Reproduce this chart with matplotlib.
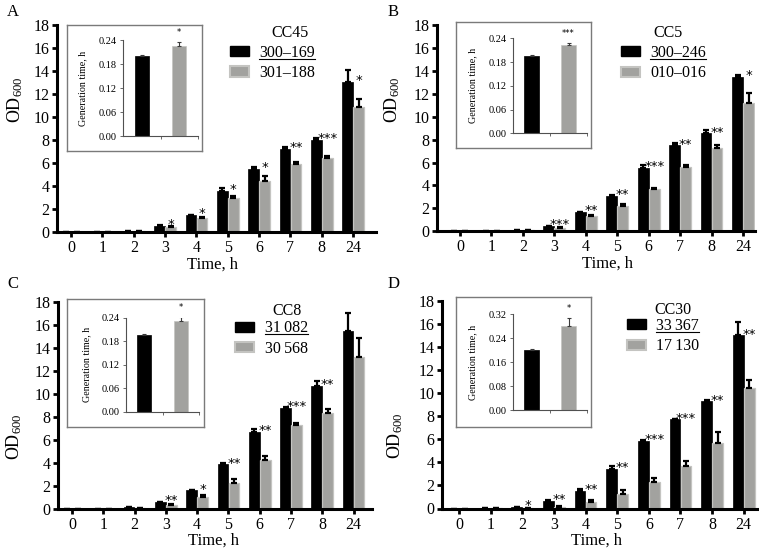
import numpy as np
import matplotlib
matplotlib.use('Agg')
import matplotlib.pyplot as plt
from matplotlib.patches import Patch
from matplotlib.lines import Line2D

plt.rcParams['font.family'] = ['Liberation Serif', 'DejaVu Serif']
plt.rcParams['mathtext.fontset'] = 'custom'
plt.rcParams['mathtext.rm'] = 'Liberation Serif'
plt.rcParams['mathtext.it'] = 'Liberation Serif:italic'
plt.rcParams['mathtext.bf'] = 'Liberation Serif:bold'

# ---------------- data ----------------
time_labels = ['0', '1', '2', '3', '4', '5', '6', '7', '8', '24']

# Panel A (CC45)
black_A = [0.0, 0.03, 0.12, 0.58, 1.48, 3.59, 5.50, 7.24, 7.99, 13.05]
black_A_err = [0, 0, 0.02, 0.05, 0.04, 0.23, 0.20, 0.20, 0.17, 1.05]
gray_A = [0.0, 0.02, 0.08, 0.43, 1.24, 2.98, 4.49, 5.90, 6.48, 10.91]
gray_A_err = [0, 0, 0.02, 0.09, 0.06, 0.17, 0.37, 0.24, 0.12, 0.64]
stars_A = ['', '', '', '*', '*', '*', '*', '**', '***', '*']

# Panel B (CC5)
black_B = [0.0, 0.03, 0.10, 0.44, 1.69, 3.11, 5.55, 7.50, 8.55, 13.49]
black_B_err = [0, 0, 0.01, 0.03, 0.03, 0.04, 0.23, 0.23, 0.26, 0.17]
gray_B = [0.0, 0.02, 0.08, 0.29, 1.34, 2.18, 3.72, 5.58, 7.27, 11.16]
gray_B_err = [0, 0, 0.01, 0.06, 0.11, 0.17, 0.05, 0.20, 0.26, 0.90]
stars_B = ['', '', '', '***', '**', '**', '***', '**', '**', '*']

# Panel C (CC8)
black_C = [0.0, 0.03, 0.14, 0.61, 1.62, 3.88, 6.72, 8.81, 10.72, 15.48]
black_C_err = [0, 0, 0.01, 0.03, 0.05, 0.08, 0.24, 0.09, 0.41, 1.55]
gray_C = [0.0, 0.02, 0.09, 0.38, 1.01, 2.29, 4.23, 7.28, 8.32, 13.23]
gray_C_err = [0, 0, 0.01, 0.08, 0.21, 0.32, 0.38, 0.17, 0.35, 1.65]
stars_C = ['', '', '', '**', '*', '**', '**', '***', '**', '']

# Panel D (CC30)
black_D = [0.0, 0.03, 0.10, 0.67, 1.53, 3.42, 5.85, 7.73, 9.29, 15.02]
black_D_err = [0, 0, 0.01, 0.05, 0.15, 0.28, 0.08, 0.03, 0.09, 1.20]
gray_D = [0.0, 0.02, 0.05, 0.15, 0.55, 1.30, 2.26, 3.68, 5.67, 10.48]
gray_D_err = [0, 0, 0.01, 0.08, 0.17, 0.29, 0.40, 0.46, 0.96, 0.66]
stars_D = ['', '', '*', '**', '**', '**', '***', '***', '**', '**']

# Insets: generation time, h  [black strain, gray strain]
gen_A = [0.200, 0.226]
gen_A_err = [0.003, 0.009]
gen_B = [0.195, 0.223]
gen_B_err = [0.004, 0.004]
gen_C = [0.196, 0.232]
gen_C_err = [0.002, 0.009]
gen_D = [0.200, 0.281]
gen_D_err = [0.002, 0.027]
gen_stars = ['*', '***', '*', '*']

titles = ['CC45', 'CC5', 'CC8', 'CC30']
strain_labels = [['300–169', '301–188'], ['300–246', '010–016'],
                 ['31\u2009082', '30\u2009568'], ['33\u2009367', '17\u2009130']]

# ---------------- layout ----------------
W, H = 759, 558
fig = plt.figure(figsize=(W / 100, H / 100), dpi=100)


def rect(l, t, r, b):
    return [l / W, 1 - b / H, (r - l) / W, (b - t) / H]


BLACK = '#000000'
GRAY = '#a2a29f'
GRAY_EDGE = '#c4c4c1'

panels = [
    dict(letter='A', lp=(7, 12), black=black_A, berr=black_A_err, gray=gray_A, gerr=gray_A_err, stars=stars_A,
         ax_px=(57, 25, 376, 232.3), xlim=(-0.45, 9.73), gen=gen_A, generr=gen_A_err, gymax=0.24, gstep=0.06,
         box_px=(67, 25, 202, 151), in_px=(123, 40, 198, 136), ylab=(-0.13, 0.64), xlab=(0.489, -0.158),
         leg=(0.542, 0.905), tit=(0.730, 0.961)),
    dict(letter='B', lp=(388, 12), black=black_B, berr=black_B_err, gray=gray_B, gerr=gray_B_err, stars=stars_B,
         ax_px=(437, 25, 755, 231.3), xlim=(-0.73, 9.38), gen=gen_B, generr=gen_B_err, gymax=0.24, gstep=0.06,
         box_px=(456, 22, 591, 148), in_px=(513, 38.3, 587, 133.3), ylab=(-0.14, 0.64), xlab=(0.535, -0.158),
         leg=(0.578, 0.903), tit=(0.726, 0.961)),
    dict(letter='C', lp=(7, 284), black=black_C, berr=black_C_err, gray=gray_C, gerr=gray_C_err, stars=stars_C,
         ax_px=(58, 302, 372, 509), xlim=(-0.45, 9.59), gen=gen_C, generr=gen_C_err, gymax=0.24, gstep=0.06,
         box_px=(67, 299, 204, 427), in_px=(126, 317.7, 199, 411.7), ylab=(-0.14, 0.35), xlab=(0.494, -0.155),
         leg=(0.564, 0.912), tit=(0.729, 0.957)),
    dict(letter='D', lp=(388, 284), black=black_D, berr=black_D_err, gray=gray_D, gerr=gray_D_err, stars=stars_D,
         ax_px=(442, 301, 757, 508.5), xlim=(-0.54, 9.42), gen=gen_D, generr=gen_D_err, gymax=0.32, gstep=0.08,
         box_px=(456, 297, 591, 427), in_px=(513, 314, 587, 410), ylab=(-0.15, 0.35), xlab=(0.49, -0.155),
         leg=(0.586, 0.919), tit=(0.733, 0.955)),
]

x = np.arange(len(time_labels))
bw = 0.34
off = 0.175
legends = []

for i, p in enumerate(panels):
    ax = fig.add_axes(rect(*p['ax_px']))
    black = np.array(p['black']); berr = np.array(p['berr'])
    gray = np.array(p['gray']); gerr = np.array(p['gerr'])
    ekw = dict(ecolor='black', elinewidth=1.6, capsize=2.2, capthick=1.6)
    ax.bar(x - off, black, bw, color=BLACK, edgecolor=BLACK, linewidth=0.5,
           yerr=[np.zeros_like(berr), berr], error_kw=ekw, zorder=2)
    ax.bar(x + off, gray, bw, color=GRAY, edgecolor=GRAY_EDGE, linewidth=0.9,
           yerr=[np.zeros_like(gerr), gerr], error_kw=ekw, zorder=2)
    for j, s in enumerate(p['stars']):
        if s:
            ys = max(black[j] + 0.45, gray[j] + gerr[j] + 0.5)
            ax.annotate(s, xy=(x[j] + off, ys), xytext=(0, -5.3), textcoords='offset points',
                        ha='center', va='baseline', fontsize=9.5, family='DejaVu Sans', zorder=5)
    ax.set_xlim(*p['xlim'])
    ax.set_ylim(0, 18)
    ax.set_yticks(np.arange(0, 19, 2))
    ax.set_xticks(x)
    ax.set_xticklabels(time_labels)
    ax.spines[['top', 'right']].set_visible(False)
    for sp in ('left', 'bottom'):
        ax.spines[sp].set_linewidth(2.2)
    ax.tick_params(axis='both', direction='out', length=3.8, width=2.0, labelsize=11.5)
    ax.tick_params(axis='x', pad=2.0)
    ax.tick_params(axis='y', pad=1.5)
    ax.set_xlabel('Time, h', fontsize=12)
    ax.xaxis.set_label_coords(*p['xlab'])
    ax.xaxis.label.set_va('center')
    ax.set_ylabel(r'$\mathrm{OD}_{600}$', fontsize=13)
    ax.yaxis.set_label_coords(*p['ylab'])
    ax.yaxis.label.set_va('center')
    ax.patch.set_alpha(0)

    handles = [Patch(facecolor=BLACK, edgecolor=BLACK),
               Patch(facecolor=GRAY, edgecolor=GRAY_EDGE, linewidth=1.5)]
    leg = ax.legend(handles, strain_labels[i], loc='upper left', bbox_to_anchor=p['leg'],
                    frameon=False, borderpad=0, borderaxespad=0, handlelength=1.2,
                    handleheight=0.6, handletextpad=0.65, labelspacing=0.28, fontsize=11.5)
    legends.append(leg)
    ax.text(p['tit'][0], p['tit'][1], titles[i], transform=ax.transAxes, ha='center', va='center',
            fontsize=11.5)

    fig.text(p['lp'][0] / W, 1 - p['lp'][1] / H, p['letter'], ha='left', va='center', fontsize=12)

    # inset
    box = fig.add_axes(rect(*p['box_px']))
    box.set_xticks([]); box.set_yticks([])
    for s in box.spines.values():
        s.set_color('#7a7a7a'); s.set_linewidth(1.0)
    box.set_zorder(3)
    inn = fig.add_axes(rect(*p['in_px']))
    inn.set_zorder(4)
    inn.patch.set_alpha(0)
    gen = p['gen']; generr = p['generr']
    inn.bar([0, 1], gen, 0.38, color=[BLACK, GRAY], edgecolor=[BLACK, GRAY_EDGE], linewidth=0.5,
            yerr=[[0, 0], generr], error_kw=dict(ecolor='#3a3a3a', elinewidth=0.8, capsize=1.5, capthick=0.8))
    inn.set_xlim(-0.5, 1.5)
    inn.set_ylim(0, p['gymax'])
    yt = np.arange(0, p['gymax'] + 1e-9, p['gstep'])
    inn.set_yticks(yt)
    inn.set_yticklabels([f'{v:.2f}' for v in yt])
    inn.set_xticks([0.5, 1.5])
    inn.set_xticklabels(['', ''])
    inn.spines[['top', 'right']].set_visible(False)
    for sp in ('left', 'bottom'):
        inn.spines[sp].set_linewidth(0.8)
        inn.spines[sp].set_color('#505050')
    inn.tick_params(axis='both', direction='out', length=2, width=0.6, color='#505050',
                    labelsize=7.5, pad=2.5)
    inn.set_ylabel('Generation time, h', fontsize=7.2)
    inn.yaxis.set_label_coords(-0.54, 0.5)
    inn.yaxis.label.set_va('center')
    inn.annotate(gen_stars[i], xy=(1, gen[1] + generr[1] + 0.1 * p['gymax']), ha='center', va='center',
                 fontsize=6, family='DejaVu Sans', annotation_clip=False)

# underline first legend entry
fig.canvas.draw()
renderer = fig.canvas.get_renderer()
for leg in legends:
    t = leg.get_texts()[0]
    bb = t.get_window_extent(renderer)
    yline = bb.y0 + 0.12 * bb.height
    fig.add_artist(Line2D([bb.x0 / W, bb.x1 / W], [yline / H, yline / H],
                          transform=fig.transFigure, color='black', linewidth=0.8))

fig.savefig('out.png', dpi=100)
